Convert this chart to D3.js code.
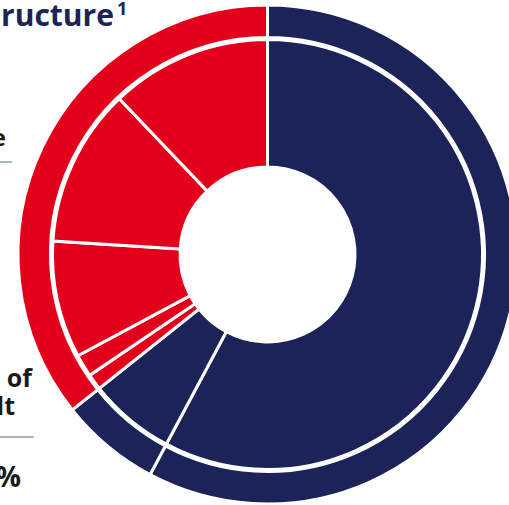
<!DOCTYPE html>
<html>
<head>
<meta charset="utf-8">
<script src="https://cdn.jsdelivr.net/npm/d3@7"></script>
<style>
  html, body { margin: 0; padding: 0; background: #fff; }
  svg { display: block; }
  text { font-family: "Open Sans", "Liberation Sans", sans-serif; font-weight: 700; }
</style>
</head>
<body>
<script>
// outer ring: the two navy parts and the red total
const outerCats = ["navy 1", "navy 2", "red"];
const outerGroup = ["navy", "navy", "red"];
const outerValues = [57.8, 6.5, 35.7];

// inner ring: navy parts plus the red breakdown
const innerCats = ["navy 1", "navy 2", "red 1", "red 2", "red 3", "red 4", "red 5"];
const innerGroup = ["navy", "navy", "red", "red", "red", "red", "red"];
const innerValues = [57.8, 6.5, 1.2, 1.7, 8.8, 11.9, 12.1];

const colors = { navy: "#1b2358", red: "#e2001a" };

const W = 509, H = 505;
const cx = 267.5, cy = 254.5;

const svg = d3.create("svg")
  .attr("width", W)
  .attr("height", H)
  .attr("viewBox", [0, 0, W, H]);
document.body.appendChild(svg.node());

const pie = d3.pie().sort(null).value(d => d.v);

const g = svg.append("g").attr("transform", `translate(${cx},${cy})`);

const outerArc = d3.arc().innerRadius(217).outerRadius(249.5);
const innerArc = d3.arc().innerRadius(87.5).outerRadius(215);

const outerData = outerCats.map((c, i) => ({ c, v: outerValues[i], grp: outerGroup[i] }));
const innerData = innerCats.map((c, i) => ({ c, v: innerValues[i], grp: innerGroup[i] }));

g.selectAll("path.outer")
  .data(pie(outerData))
  .join("path")
  .attr("class", "outer")
  .attr("d", outerArc)
  .attr("fill", d => colors[d.data.grp])
  .attr("stroke", "#fff")
  .attr("stroke-width", 3);

g.selectAll("path.inner")
  .data(pie(innerData))
  .join("path")
  .attr("class", "inner")
  .attr("d", innerArc)
  .attr("fill", d => colors[d.data.grp])
  .attr("stroke", "#fff")
  .attr("stroke-width", 3);

// clipped texts from the slide around the chart
const title = svg.append("text")
  .attr("x", 1)
  .attr("y", 26)
  .attr("fill", colors.navy)
  .style("font-size", "31px");
title.append("tspan")
  .attr("textLength", 113)
  .attr("lengthAdjust", "spacingAndGlyphs")
  .text("ructure");
title.append("tspan")
  .attr("dy", -11)
  .attr("dx", 3)
  .style("font-size", "18px")
  .text("1");

svg.append("text")
  .attr("x", 6).attr("y", 146)
  .attr("text-anchor", "end")
  .attr("fill", "#1a1a1a")
  .style("font-size", "24px")
  .text("e");

svg.append("line")
  .attr("x1", 0).attr("x2", 12)
  .attr("y1", 162).attr("y2", 162)
  .attr("stroke", "#8fa3a8").attr("stroke-width", 1.5);

svg.append("text")
  .attr("x", 32).attr("y", 387)
  .attr("text-anchor", "end")
  .attr("fill", "#1a1a1a")
  .style("font-size", "25px")
  .text("of");

svg.append("text")
  .attr("x", 15).attr("y", 415)
  .attr("text-anchor", "end")
  .attr("fill", "#1a1a1a")
  .style("font-size", "25px")
  .text("lt");

svg.append("line")
  .attr("x1", 0).attr("x2", 34)
  .attr("y1", 437).attr("y2", 437)
  .attr("stroke", "#8fa3a8").attr("stroke-width", 1.5);

svg.append("text")
  .attr("x", 21).attr("y", 487)
  .attr("text-anchor", "end")
  .attr("fill", "#1a1a1a")
  .style("font-size", "28px")
  .text("%");
</script>
</body>
</html>
